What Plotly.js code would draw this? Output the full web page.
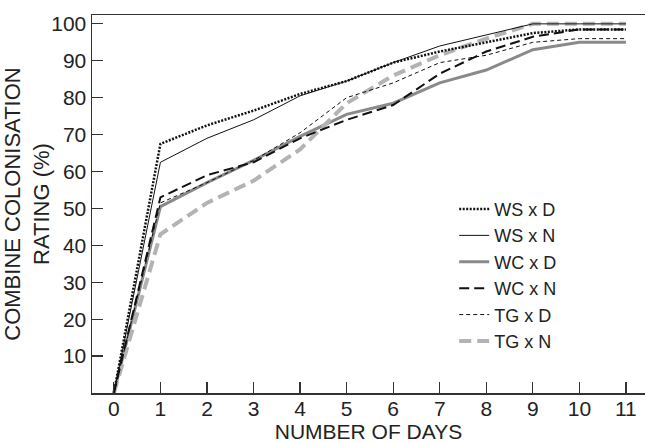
<!DOCTYPE html>
<html>
<head>
<meta charset="utf-8">
<script src="https://cdn.plot.ly/plotly-3.0.1.min.js"></script>
<style>
html,body{margin:0;padding:0;background:#fff;}
#chart{width:646px;height:443px;}
</style>
</head>
<body>
<div id="chart"></div>
<script>
const days = [0,1,2,3,4,5,6,7,8,9,10,11];
const seriesNames = ["WS x D","WS x N","WC x D","WC x N","TG x D","TG x N"];
const wsD = [0, 67.5, 72.5, 76.5, 81, 84.5, 89.5, 92.5, 95, 97.5, 98.5, 98.5];
const wsN = [0, 62.5, 69, 74, 80.5, 84.5, 89.5, 94, 97, 100, 100, 100];
const wcD = [0, 50.5, 57, 63, 69.5, 75.5, 78.5, 84, 87.5, 93, 95, 95];
const wcN = [0, 53, 59, 62.5, 69, 74, 78, 86.5, 92.5, 96.5, 98.5, 98.5];
const tgD = [0, 51.5, 57, 63, 70.5, 80, 84, 89.5, 91.5, 95, 96, 96];
const tgN = [0, 43, 51.5, 57.5, 66, 78.5, 86, 91.5, 96, 100, 100, 100];
const yTicks = [10,20,30,40,50,60,70,80,90,100];

function tr(name, y, color, width, dash, rank){
  return {x: days, y: y, name: name, type: 'scatter', mode: 'lines',
    line: {color: color, width: width, dash: dash}, legendrank: rank};
}
const data = [
  tr(seriesNames[2], wcD, '#8a8a8a', 3, 'solid', 3),
  tr(seriesNames[5], tgN, '#b3b3b3', 4, '12px,6px', 6),
  tr(seriesNames[0], wsD, '#111', 2.5, '2px,1.5px', 1),
  tr(seriesNames[1], wsN, '#111', 1, 'solid', 2),
  tr(seriesNames[3], wcN, '#111', 2, '10px,5px', 4),
  tr(seriesNames[4], tgD, '#111', 1, '4px,3px', 5)
];
const layout = {
  width: 646, height: 443,
  margin: {l: 92, r: 1, t: 15, b: 50},
  paper_bgcolor: '#fff', plot_bgcolor: '#fff',
  font: {family: 'Liberation Sans, Arial, sans-serif', color: '#222', size: 21},
  showlegend: true,
  legend: {x: 0.655, y: 0.535, xanchor: 'left', yanchor: 'top',
    font: {size: 18, color: '#222'}, bgcolor: 'rgba(0,0,0,0)', tracegroupgap: 0},
  xaxis: {range: [-0.47, 11.41], tickvals: days, ticktext: days.map(String),
    ticks: 'inside', ticklen: 11, tickcolor: '#333', tickwidth: 1.2,
    ticklabelstandoff: -4,
    showline: true, mirror: true, linecolor: '#333', linewidth: 1.5,
    showgrid: false, zeroline: false,
    title: {text: 'NUMBER OF DAYS', font: {size: 21}, standoff: 0}},
  yaxis: {range: [0, 102.4], tickvals: yTicks, ticktext: yTicks.map(String),
    ticks: 'inside', ticklen: 11, tickcolor: '#333', tickwidth: 1.2,
    showline: true, linecolor: '#333', linewidth: 1.5,
    showgrid: false, zeroline: false,
    title: {text: 'COMBINE COLONISATION<br>RATING (%)', font: {size: 22}, standoff: 4}}
};
Plotly.newPlot('chart', data, layout, {displayModeBar: false, staticPlot: true});
</script>
</body>
</html>
